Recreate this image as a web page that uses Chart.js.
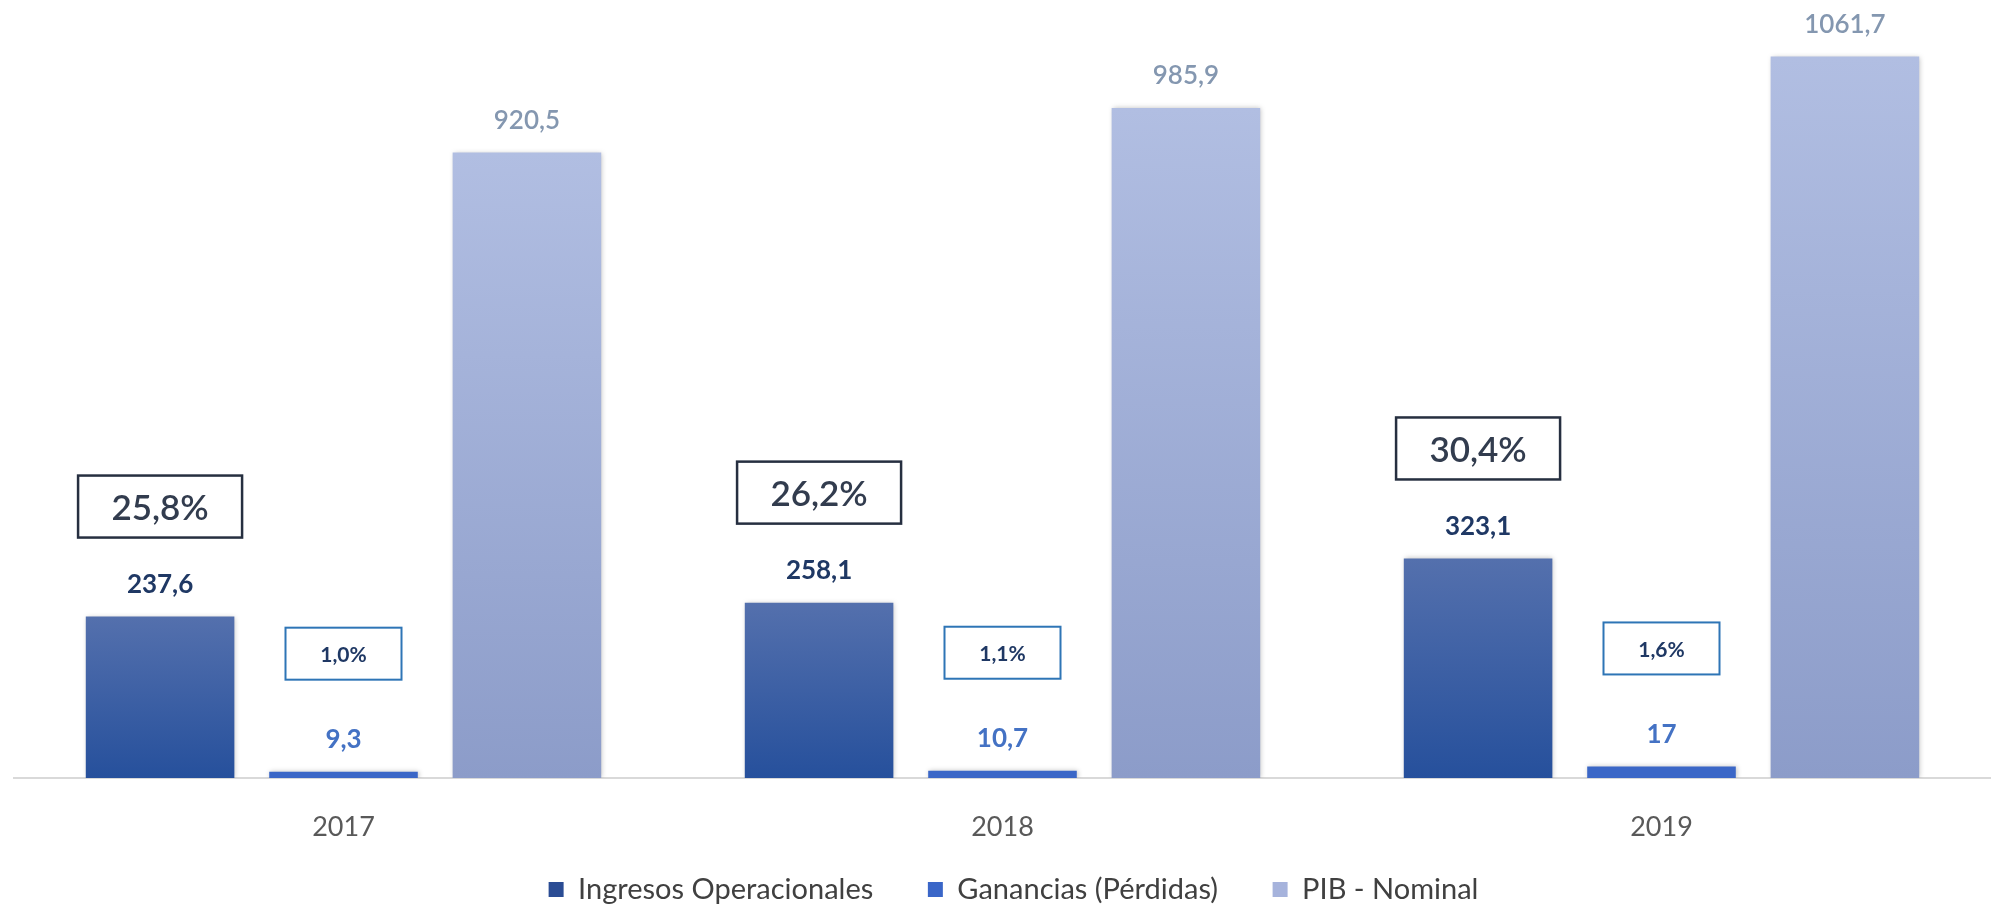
<!DOCTYPE html>
<html>
<head>
<meta charset="utf-8">
<script src="https://cdn.jsdelivr.net/npm/chart.js@4/dist/chart.umd.min.js"></script>
<style>
  html, body { margin: 0; padding: 0; background: #fff; }
  #wrap { width: 1991px; height: 904px; }
</style>
</head>
<body>
<div id="wrap"><canvas id="chart"></canvas></div>
<script>
var years = ['2017', '2018', '2019'];
var ingresos = [237.6, 258.1, 323.1];
var ganancias = [9.3, 10.7, 17];
var pib = [920.5, 985.9, 1061.7];
// % del PIB
var pctIngresos = [25.8, 26.2, 30.4];
var pctGanancias = [1.0, 1.1, 1.6];

var FONT = 'Lato, "Noto Sans", sans-serif';

function fmt(v) {
    return String(v).replace('.', ',');
}
function fmtPct(v) {
    return v.toFixed(1).replace('.', ',') + '%';
}

function gradient(top, bottom) {
    return function (ctx) {
        var chart = ctx.chart;
        var y = chart.scales.y;
        if (!chart.chartArea || !y || ctx.raw === undefined) return bottom;
        var yTop = y.getPixelForValue(ctx.raw);
        var yBot = y.getPixelForValue(0);
        if (!isFinite(yTop) || yBot - yTop < 2) return bottom;
        var g = chart.ctx.createLinearGradient(0, yTop, 0, yBot);
        g.addColorStop(0, top);
        g.addColorStop(1, bottom);
        return g;
    };
}

var labelColors = ['#1f3864', '#4472c4', '#8497b0'];
var legendColors = ['#2a4c94', '#3a66c8', '#a6b3dc'];

var labelsPlugin = {
    id: 'barLabels',
    afterDatasetsDraw: function (chart) {
        var c = chart.ctx;
        c.save();
        c.textAlign = 'center';
        c.textBaseline = 'middle';
        chart.data.datasets.forEach(function (ds, i) {
            var meta = chart.getDatasetMeta(i);
            meta.data.forEach(function (bar, j) {
                c.fillStyle = labelColors[i];
                c.font = (i === 2 ? '600 ' : 'bold ') + '26px ' + FONT;
                c.fillText(fmt(ds.data[j]), bar.x, bar.y - 32);

                if (i === 0) {
                    var cy = bar.y - 110;
                    var w = 164, h = 62;
                    c.strokeStyle = '#262f40';
                    c.lineWidth = 2.5;
                    c.strokeRect(bar.x - w / 2, cy - h / 2, w, h);
                    c.fillStyle = '#323c4e';
                    c.font = '600 35px ' + FONT;
                    c.fillText(fmtPct(pctIngresos[j]), bar.x, cy + 2);
                }
                if (i === 1) {
                    var cy2 = bar.y - 118;
                    var w2 = 116, h2 = 52;
                    c.strokeStyle = '#2e75b6';
                    c.lineWidth = 2;
                    c.strokeRect(bar.x - w2 / 2, cy2 - h2 / 2, w2, h2);
                    c.fillStyle = '#1f3864';
                    c.font = 'bold 21px ' + FONT;
                    c.fillText(fmtPct(pctGanancias[j]), bar.x, cy2 + 2);
                }
            });
        });
        c.restore();
    }
};

var shadowPlugin = {
    id: 'barShadow',
    beforeDatasetsDraw: function (chart) {
        chart.ctx.save();
        chart.ctx.shadowColor = 'rgba(0,0,0,0.25)';
        chart.ctx.shadowBlur = 5;
        chart.ctx.shadowOffsetX = 1;
        chart.ctx.shadowOffsetY = 0;
    },
    afterDatasetsDraw: function (chart) {
        chart.ctx.restore();
    }
};

var ctx = document.getElementById('chart');
new Chart(ctx, {
    type: 'bar',
    data: {
        labels: years,
        datasets: [
            { label: 'Ingresos Operacionales', data: ingresos, backgroundColor: gradient('#5470ad', '#26509c') },
            { label: 'Ganancias (Pérdidas)', data: ganancias, backgroundColor: '#3b67c7' },
            { label: 'PIB - Nominal', data: pib, backgroundColor: gradient('#b1bee2', '#8c9cc9') }
        ]
    },
    options: {
        responsive: true,
        maintainAspectRatio: false,
        animation: false,
        categoryPercentage: 0.835,
        barPercentage: 0.81,
        layout: { padding: { left: 14, right: -22, top: 0, bottom: -10 } },
        scales: {
            y: { display: false, min: 0, max: 1145 },
            x: {
                grid: { display: false },
                border: { color: '#d9d9d9', width: 2 },
                ticks: { color: '#595959', font: { family: FONT, size: 27 }, padding: 25 },
                afterFit: function (scale) { scale.height = 87; }
            }
        },
        plugins: {
            tooltip: { enabled: false },
            legend: {
                position: 'bottom',
                labels: {
                    color: '#404040',
                    font: { family: FONT, size: 29 },
                    boxWidth: 15,
                    boxHeight: 15,
                    padding: 10,
                    generateLabels: function (chart) {
                        var n = chart.data.datasets.length;
                        return chart.data.datasets.map(function (ds, i) {
                            // trailing spaces widen the gap between items
                            return {
                                text: i < n - 1 ? ds.label + '      ' : ds.label,
                                fillStyle: legendColors[i],
                                strokeStyle: legendColors[i],
                                lineWidth: 0,
                                datasetIndex: i,
                                fontColor: '#404040'
                            };
                        });
                    }
                }
            }
        }
    },
    plugins: [shadowPlugin, labelsPlugin]
});
</script>
</body>
</html>
